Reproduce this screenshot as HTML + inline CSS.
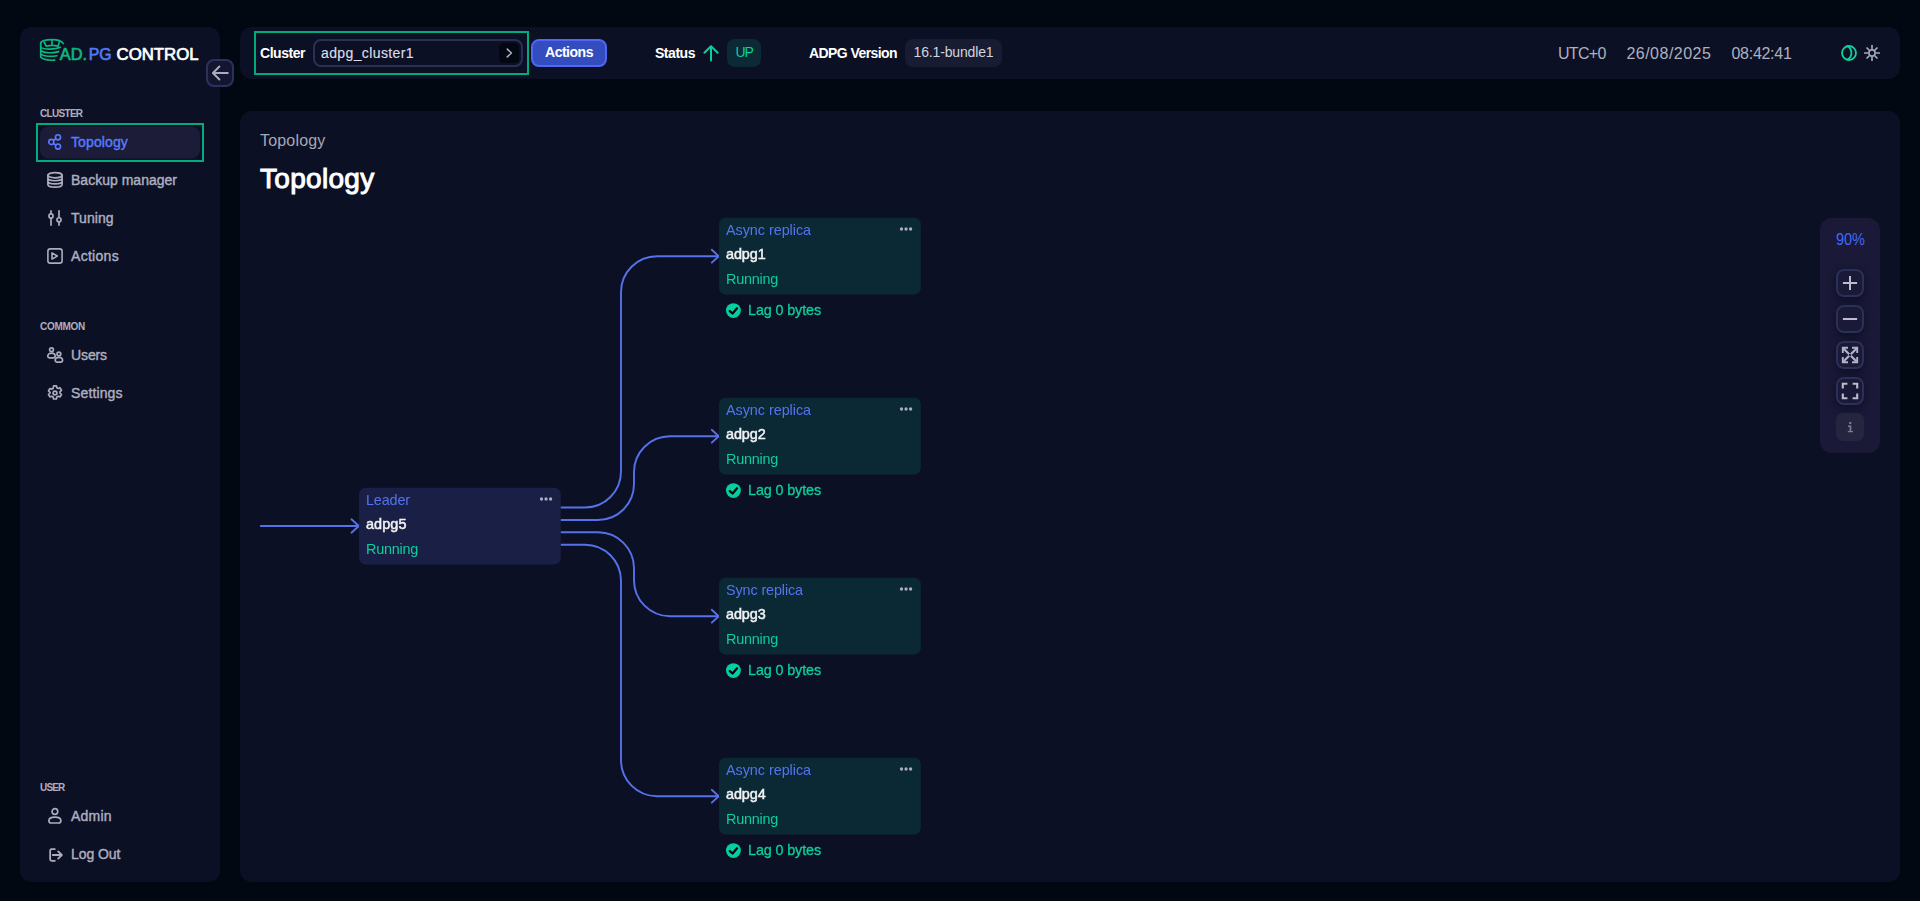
<!DOCTYPE html>
<html><head><meta charset="utf-8"><title>ADPG Control</title>
<style>
*{box-sizing:border-box;margin:0;padding:0}
html,body{width:1920px;height:901px;overflow:hidden;background:#020812;font-family:"Liberation Sans",sans-serif;}
.panel{position:absolute;background:#0c1024;border-radius:12px}
.t{position:absolute;white-space:nowrap;line-height:1}
.box{position:absolute}
.node{position:absolute;width:201.8px;height:76.6px;margin-top:-0.2px;border-radius:7px;background:#0b2935}
.zb{position:absolute;left:1836px;width:28px;height:28px;border-radius:8px;border:2px solid #2a3056;background:#1b1938;box-shadow:0 3px 8px rgba(8,8,26,.6)}
svg{position:absolute;overflow:visible}
</style></head><body>
<!-- panels -->
<div class="panel" style="left:20px;top:27px;width:200px;height:855px"></div>
<div class="panel" style="left:240px;top:27px;width:1660px;height:52px"></div>
<div class="panel" style="left:240px;top:111px;width:1660px;height:771px"></div>

<!-- collapse button -->
<div class="box" style="left:206px;top:59px;width:28px;height:28px;border-radius:8px;background:#141530;border:2px solid #2c325a"></div>
<svg style="left:206px;top:59px" width="28" height="28" viewBox="0 0 28 28" fill="none" stroke="#abadbf" stroke-width="1.9" stroke-linecap="round" stroke-linejoin="round"><path d="M21.800 14H7M13.400 7.500L6.900 14l6.500 6.500"/></svg>

<!-- logo -->
<svg id="logo" style="left:36px;top:30px" width="170" height="40" viewBox="0 0 170 40" fill="none">
 <g stroke="#0cb67e" stroke-width="1.65" stroke-linecap="round" stroke-linejoin="round" fill="none">
  <path d="M4.700 13.400C4.700 10.900 9.600 9.600 16 9.600C21.500 9.600 25.800 11 27.300 13.600"/>
  <path d="M10.300 16.250Q16 14.500 22 16.250M8 12L10.300 16.250M16 10.600V15.400M23.300 12.200L22 16.250"/>
  <path d="M4.700 13.400V27.100"/>
  <path d="M4.700 17.400C8 19.500 18 19.900 24.400 17.300"/>
  <path d="M4.700 20.700C8 23 17 23.500 22.600 21.600"/>
  <path d="M4.700 24.100C7.500 26.400 15 27 20.900 25.800"/>
  <path d="M4.700 27.100C6.500 29.600 12 30.500 18.700 30.100"/>
 </g>
 <g font-family="Liberation Sans, sans-serif" font-size="16.600" stroke-width="0.7" stroke-linejoin="round">
 <text x="23.800" y="29.600" fill="#0cb67e" stroke="#0cb67e" textLength="27.300" lengthAdjust="spacingAndGlyphs">AD.</text>
 <text x="52.800" y="29.600" fill="#5278f5" stroke="#5278f5" textLength="22.800" lengthAdjust="spacingAndGlyphs">PG</text>
 <text x="80.600" y="29.600" fill="#ffffff" stroke="#ffffff" textLength="82" lengthAdjust="spacingAndGlyphs">CONTROL</text>
 </g>
</svg>

<!-- nav active -->
<div class="box" style="left:36px;top:123px;width:168px;height:39px;border:2px solid #02aa7e"></div>
<svg style="left:0;top:0" width="240" height="200" viewBox="0 0 240 200"><rect x="40" y="126.600" width="160" height="31.900" rx="8.500" fill="#1c1b38"/></svg>

<!-- nav icons (16x16 at x=47) -->
<svg style="left:47px;top:134px" width="16" height="16" viewBox="0 0 16 16" fill="none" stroke="#587bff" stroke-width="1.6"><circle cx="4.300" cy="7.900" r="2.550"/><circle cx="11" cy="3.300" r="2.550"/><circle cx="11" cy="12.600" r="2.550"/><path d="M6.400 6.500L8.900 4.750M6.400 9.350L8.900 11.100"/></svg>
<svg style="left:47px;top:172px" width="16" height="16" viewBox="0 0 16 16" fill="none" stroke="#abadbd" stroke-width="1.7" stroke-linecap="round"><ellipse cx="8" cy="3.200" rx="7.100" ry="2.600"/><path d="M.9 3.200V12.400C.9 13.900 4 15.050 8 15.050S15.100 13.900 15.100 12.400V3.200M.9 6.100c0 1.500 3.100 2.650 7.100 2.650s7.100-1.150 7.100-2.650M.9 9.200c0 1.500 3.100 2.650 7.100 2.650s7.100-1.150 7.100-2.650"/></svg>
<svg style="left:47px;top:210px" width="16" height="16" viewBox="0 0 16 16" fill="none" stroke="#abadbd" stroke-width="1.7" stroke-linecap="butt"><path d="M4 .2v3.700M4 8.100V15.800M12 .2v7.500M12 11.900V15.800"/><circle cx="4" cy="6" r="2.050"/><circle cx="12" cy="9.800" r="2.050"/></svg>
<svg style="left:47px;top:248px" width="16" height="16" viewBox="0 0 16 16" fill="none" stroke="#abadbd" stroke-width="1.6" stroke-linejoin="round"><rect x=".9" y=".9" width="14.2" height="14.2" rx="2.4"/><path d="M5 4.900v6.200L10.300 8z"/></svg>
<svg style="left:47px;top:347px" width="16" height="16" viewBox="0 0 16 16" fill="none" stroke="#abadbd" stroke-width="1.7"><circle cx="4.5" cy="2.8" r="1.9"/><path d="M.8 9.2C.8 7.3 2.4 6.2 4.5 6.2s3.7 1.1 3.7 3c0 1.4-1 1.7-3.7 1.7S.8 10.6.8 9.2z"/><circle cx="11.9" cy="7" r="1.9"/><path d="M8.2 13.4c0-1.9 1.6-3 3.7-3s3.7 1.1 3.7 3c0 1.4-1 1.7-3.7 1.7s-3.7-.3-3.7-1.7z"/></svg>
<svg style="left:47px;top:385px" width="16" height="16" viewBox="0 0 16 16" fill="none" stroke="#abadbd" stroke-width="1.7" stroke-linejoin="round"><circle cx="8" cy="8" r="1.9"/><path d="M6.6.8h2.8l.5 2 1.2.7 2-.6 1.400 2.400-1.500 1.400v1.400l1.500 1.400-1.400 2.400-2-.6-1.200.7-.5 2H6.600l-.5-2-1.200-.7-2 .6-1.400-2.400 1.500-1.400V7.300L1.500 5.900l1.400-2.400 2 .6 1.200-.7z"/></svg>
<svg style="left:47px;top:808px" width="16" height="16" viewBox="0 0 16 16" fill="none" stroke="#abadbd" stroke-width="1.7" stroke-linejoin="round"><circle cx="7.900" cy="3.500" r="2.850"/><path d="M1.900 12.500C1.900 10.200 4.400 9.100 7.900 9.100S13.900 10.200 13.900 12.500C13.900 14.100 13 15 11.800 15H4C2.800 15 1.900 14.100 1.900 12.500z"/></svg>
<svg style="left:47px;top:846px" width="16" height="16" viewBox="0 0 16 16" fill="none" stroke="#abadbd" stroke-width="1.8" stroke-linecap="butt" stroke-linejoin="round"><path d="M8.500 3.100H4.700Q3.150 3.100 3.150 4.650V13.350Q3.150 14.900 4.700 14.900H8.500"/><path d="M5.800 9h8.400M11.200 5.400L14.800 9l-3.600 3.600" stroke-width="1.9" stroke-linecap="round"/></svg>

<!-- top bar -->
<div class="box" style="left:254px;top:31px;width:275px;height:44px;border:2px solid #02aa7e"></div>
<div class="box" style="left:313px;top:39px;width:210px;height:28px;border-radius:8px;border:2px solid #2b2f53;background:#0c1024"></div>
<div class="box" style="left:499px;top:43px;width:20px;height:20px;border-radius:5px;background:#030712"></div>
<svg style="left:499px;top:43px" width="20" height="20" viewBox="0 0 20 20" fill="none" stroke="#abadbd" stroke-width="1.6" stroke-linecap="round" stroke-linejoin="round"><path d="M8.300 6.100L12.400 10 8.300 13.900"/></svg>
<div class="box" style="left:531px;top:39px;width:76px;height:28px;border-radius:8px;border:2px solid #5066f4;background:#334dbe"></div>
<svg style="left:703px;top:45px" width="16" height="16" viewBox="0 0 16 16" fill="none" stroke="#0acf9c" stroke-width="2" stroke-linecap="round" stroke-linejoin="round"><path d="M8 15.400V1.200M1.400 7.800L8 1.100l6.600 6.700"/></svg>
<div class="box" style="left:727px;top:39px;width:34px;height:28px;border-radius:8px;background:#0b2a36"></div>
<div class="box" style="left:905px;top:39px;width:97px;height:28px;border-radius:8px;background:#181c33"></div>
<svg style="left:1840px;top:44px" width="18" height="18" viewBox="0 0 18 18" fill="none" stroke="#0fd29b" stroke-width="1.8" stroke-linecap="round"><circle cx="9" cy="9" r="7"/><path d="M7.400 2.300A7.600 7.600 0 0 1 7.400 15.700"/></svg>
<svg style="left:1863px;top:44px" width="18" height="18" viewBox="0 0 18 18" fill="none" stroke="#a3a5b6" stroke-width="1.7" stroke-linecap="butt"><circle cx="9" cy="9" r="3.100"/><path d="M9 1v4M9 13v4M1 9h4M13 9h4M3.500 3.500l2.700 2.700M11.800 11.800l2.700 2.700M3.500 14.500l2.700-2.700M11.800 6.200l2.700-2.700"/></svg>

<!-- edges -->
<svg style="left:0;top:0" width="1920" height="901" viewBox="0 0 1920 901" fill="none" stroke="#5572ea" stroke-width="1.9" stroke-linecap="round" stroke-linejoin="round">
 <path d="M260.800 526H358.500M351.500 519.300L358.800 526L351.500 532.700"/>
 <path d="M561 507.500H585A36 36 0 0 0 621 471.500V292.200A36 36 0 0 1 657 256.200H718.500"/>
 <path d="M561 544.700H585A36 36 0 0 1 621 580.700V760.200A36 36 0 0 0 657 796.200H718.500"/>
 <path d="M561 520H598A36 36 0 0 0 634 484V472.200A36 36 0 0 1 670 436.200H718.500"/>
 <path d="M561 532.300H598A36 36 0 0 1 634 568.300V580.200A36 36 0 0 0 670 616.200H718.500"/>
 <path d="M711.800 249.800L718.700 256.200L711.800 262.600M711.800 429.800L718.700 436.200L711.800 442.600M711.800 609.800L718.700 616.200L711.800 622.600M711.800 789.800L718.700 796.200L711.800 802.600"/>
</svg>

<!-- nodes -->
<svg style="left:0;top:0" width="1920" height="901" viewBox="0 0 1920 901">
 <rect x="359" y="487.800" width="201.800" height="76.600" rx="6.500" fill="#191f45"/>
 <rect x="719" y="217.800" width="201.800" height="76.600" rx="6.500" fill="#0b2935"/>
 <rect x="719" y="397.800" width="201.800" height="76.600" rx="6.500" fill="#0b2935"/>
 <rect x="719" y="577.800" width="201.800" height="76.600" rx="6.500" fill="#0b2935"/>
 <rect x="719" y="757.800" width="201.800" height="76.600" rx="6.500" fill="#0b2935"/>
</svg>
<svg style="left:0;top:0" width="1920" height="901" viewBox="0 0 1920 901">
 <defs>
  <g id="d3"><circle cx="0" cy="0" r="1.650"/><circle cx="4.550" cy="0" r="1.650"/><circle cx="9.100" cy="0" r="1.650"/></g>
  <g id="chk"><circle cx="0" cy="0" r="7.450" fill="#02d0a0"/><path d="M-3.600 .500L-.8 2.900 3.600-2.300" fill="none" stroke="#02040c" stroke-width="2.300" stroke-linecap="round" stroke-linejoin="round"/></g>
 </defs>
 <g fill="#abadbe">
  <use href="#d3" x="541.500" y="499"/>
  <use href="#d3" x="901.500" y="229"/><use href="#d3" x="901.500" y="409"/><use href="#d3" x="901.500" y="589"/><use href="#d3" x="901.500" y="769"/>
 </g>
 <use href="#chk" x="733.400" y="310.600"/><use href="#chk" x="733.400" y="490.600"/><use href="#chk" x="733.400" y="670.600"/><use href="#chk" x="733.400" y="850.600"/>
</svg>

<!-- zoom panel -->
<div class="box" style="left:1820px;top:218px;width:60px;height:235px;border-radius:12px;background:#1a1937"></div>
<div class="zb" style="top:269px"></div><div class="zb" style="top:305px"></div><div class="zb" style="top:341px"></div><div class="zb" style="top:377px"></div>
<div class="box" style="left:1836px;top:413px;width:28px;height:28px;border-radius:7px;background:#25253f"></div>
<svg style="left:1836px;top:269px" width="28" height="28" viewBox="0 0 28 28" fill="none" stroke="#bbbccd" stroke-width="2" stroke-linecap="butt"><path d="M14 6.900v14.200M6.900 14h14.200"/></svg>
<svg style="left:1836px;top:305px" width="28" height="28" viewBox="0 0 28 28" fill="none" stroke="#bbbccd" stroke-width="2"><path d="M6.900 14h14.200"/></svg>
<svg style="left:1836px;top:341px" width="28" height="28" viewBox="0 0 28 28" fill="none" stroke="#b0b2c5" stroke-width="1.9" stroke-linejoin="miter"><path d="M6.800 12V6.800H12M16 6.800h5.200V12M21.200 16v5.200H16M12 21.200H6.800V16"/><path d="M7.200 7.200l6 6M20.800 7.200l-6 6M20.800 20.800l-6-6M7.200 20.800l6-6" stroke-width="2.200"/></svg>
<svg style="left:1836px;top:377px" width="28" height="28" viewBox="0 0 28 28" fill="none" stroke="#bbbccd" stroke-width="2.100"><path d="M6.800 11.400V6.800h4.600M16.600 6.800h4.600v4.600M21.200 16.600v4.600h-4.600M11.400 21.200H6.800v-4.600"/></svg>
<svg style="left:1836px;top:413px" width="28" height="28" viewBox="0 0 28 28" fill="#7a7c90"><rect x="13.200" y="9" width="2.100" height="2.100"/><path d="M12 12.500h3.300v5.400h1.700v1.400h-5.200v-1.400h1.800v-4h-1.600z"/></svg>

<div class=t style="left:40px;top:108.53px;font-size:10px;font-weight:bold;color:#adafc0;letter-spacing:-0.691px;">CLUSTER</div>
<div class=t style="left:40px;top:321.94px;font-size:10px;font-weight:bold;color:#adafc0;letter-spacing:-0.279px;">COMMON</div>
<div class=t style="left:40px;top:782.83px;font-size:10px;font-weight:bold;color:#adafc0;letter-spacing:-0.824px;">USER</div>
<div class=t style="left:71px;top:135.15px;font-size:14px;font-weight:normal;color:#587bff;letter-spacing:0.119px;-webkit-text-stroke:0.4px #587bff;">Topology</div>
<div class=t style="left:71px;top:173.15px;font-size:14px;font-weight:normal;color:#adafc0;letter-spacing:0.011px;-webkit-text-stroke:0.4px #adafc0;">Backup manager</div>
<div class=t style="left:71px;top:211.15px;font-size:14px;font-weight:normal;color:#adafc0;letter-spacing:0.051px;-webkit-text-stroke:0.4px #adafc0;">Tuning</div>
<div class=t style="left:71px;top:249.15px;font-size:14px;font-weight:normal;color:#adafc0;letter-spacing:0.297px;-webkit-text-stroke:0.4px #adafc0;">Actions</div>
<div class=t style="left:71px;top:348.15px;font-size:14px;font-weight:normal;color:#adafc0;letter-spacing:-0.113px;-webkit-text-stroke:0.4px #adafc0;">Users</div>
<div class=t style="left:71px;top:386.15px;font-size:14px;font-weight:normal;color:#adafc0;letter-spacing:0.126px;-webkit-text-stroke:0.4px #adafc0;">Settings</div>
<div class=t style="left:71px;top:809.15px;font-size:14px;font-weight:normal;color:#adafc0;letter-spacing:0.203px;-webkit-text-stroke:0.4px #adafc0;">Admin</div>
<div class=t style="left:71px;top:847.15px;font-size:14px;font-weight:normal;color:#adafc0;letter-spacing:-0.090px;-webkit-text-stroke:0.4px #adafc0;">Log Out</div>
<div class=t style="left:260px;top:46.15px;font-size:14px;font-weight:bold;color:#fff;letter-spacing:-0.462px;">Cluster</div>
<div class=t style="left:321px;top:46.15px;font-size:14px;font-weight:normal;color:#dcdde7;letter-spacing:0.388px;-webkit-text-stroke:0.15px #dcdde7;">adpg_cluster1</div>
<div class=t style="left:545px;top:45.15px;font-size:14px;font-weight:bold;color:#fff;letter-spacing:-0.478px;">Actions</div>
<div class=t style="left:655px;top:46.15px;font-size:14px;font-weight:bold;color:#fff;letter-spacing:-0.466px;">Status</div>
<div class=t style="left:735.5px;top:45.15px;font-size:14px;font-weight:normal;color:#0acf9c;letter-spacing:-1.227px;">UP</div>
<div class=t style="left:809px;top:46.15px;font-size:14px;font-weight:bold;color:#fff;letter-spacing:-0.577px;">ADPG Version</div>
<div class=t style="left:913.5px;top:45.15px;font-size:14px;font-weight:normal;color:#d2d4de;letter-spacing:-0.146px;">16.1-bundle1</div>
<div class=t style="left:1558px;top:46.46px;font-size:16px;font-weight:normal;color:#adb0c0;letter-spacing:-0.705px;">UTC+0</div>
<div class=t style="left:1626.4px;top:46.46px;font-size:16px;font-weight:normal;color:#adb0c0;letter-spacing:0.492px;">26/08/2025</div>
<div class=t style="left:1731.5px;top:46.46px;font-size:16px;font-weight:normal;color:#adb0c0;letter-spacing:-0.285px;">08:42:41</div>
<div class=t style="left:260px;top:133.46px;font-size:16px;font-weight:normal;color:#a6a8b8;letter-spacing:0.182px;">Topology</div>
<div class=t style="left:260px;top:164.90px;font-size:28px;font-weight:normal;color:#fff;letter-spacing:0.301px;-webkit-text-stroke:1.0px #fff;">Topology</div>
<div class=t style="left:1835.6px;top:232.26px;font-size:16px;font-weight:normal;color:#4369f8;letter-spacing:0.000px;transform:scaleX(0.9054);transform-origin:0 50%;">90%</div>
<div class=t style="left:366px;top:492.81px;font-size:14.4px;font-weight:normal;color:#5573ee;letter-spacing:-0.135px;will-change:transform;">Leader</div>
<div class=t style="left:366px;top:517.31px;font-size:14.4px;font-weight:normal;color:#f2f2f5;letter-spacing:0.114px;will-change:transform;-webkit-text-stroke:0.5px #f2f2f5;">adpg5</div>
<div class=t style="left:366px;top:541.81px;font-size:14.4px;font-weight:normal;color:#0acf9c;letter-spacing:-0.230px;will-change:transform;">Running</div>
<div class=t style="left:726px;top:222.81px;font-size:14.4px;font-weight:normal;color:#5573ee;letter-spacing:-0.044px;will-change:transform;">Async replica</div>
<div class=t style="left:726px;top:247.31px;font-size:14.4px;font-weight:normal;color:#f2f2f5;letter-spacing:-0.086px;will-change:transform;-webkit-text-stroke:0.5px #f2f2f5;">adpg1</div>
<div class=t style="left:726px;top:271.81px;font-size:14.4px;font-weight:normal;color:#0acf9c;letter-spacing:-0.230px;will-change:transform;">Running</div>
<div class=t style="left:748px;top:303.11px;font-size:14.4px;font-weight:normal;color:#0acf9c;letter-spacing:-0.128px;will-change:transform;-webkit-text-stroke:0.3px #0acf9c;">Lag 0 bytes</div>
<div class=t style="left:726px;top:402.81px;font-size:14.4px;font-weight:normal;color:#5573ee;letter-spacing:-0.044px;will-change:transform;">Async replica</div>
<div class=t style="left:726px;top:427.31px;font-size:14.4px;font-weight:normal;color:#f2f2f5;letter-spacing:-0.086px;will-change:transform;-webkit-text-stroke:0.5px #f2f2f5;">adpg2</div>
<div class=t style="left:726px;top:451.81px;font-size:14.4px;font-weight:normal;color:#0acf9c;letter-spacing:-0.230px;will-change:transform;">Running</div>
<div class=t style="left:748px;top:483.11px;font-size:14.4px;font-weight:normal;color:#0acf9c;letter-spacing:-0.128px;will-change:transform;-webkit-text-stroke:0.3px #0acf9c;">Lag 0 bytes</div>
<div class=t style="left:726px;top:582.81px;font-size:14.4px;font-weight:normal;color:#5573ee;letter-spacing:-0.116px;will-change:transform;">Sync replica</div>
<div class=t style="left:726px;top:607.31px;font-size:14.4px;font-weight:normal;color:#f2f2f5;letter-spacing:-0.086px;will-change:transform;-webkit-text-stroke:0.5px #f2f2f5;">adpg3</div>
<div class=t style="left:726px;top:631.81px;font-size:14.4px;font-weight:normal;color:#0acf9c;letter-spacing:-0.230px;will-change:transform;">Running</div>
<div class=t style="left:748px;top:663.11px;font-size:14.4px;font-weight:normal;color:#0acf9c;letter-spacing:-0.128px;will-change:transform;-webkit-text-stroke:0.3px #0acf9c;">Lag 0 bytes</div>
<div class=t style="left:726px;top:762.81px;font-size:14.4px;font-weight:normal;color:#5573ee;letter-spacing:-0.044px;will-change:transform;">Async replica</div>
<div class=t style="left:726px;top:787.31px;font-size:14.4px;font-weight:normal;color:#f2f2f5;letter-spacing:-0.086px;will-change:transform;-webkit-text-stroke:0.5px #f2f2f5;">adpg4</div>
<div class=t style="left:726px;top:811.81px;font-size:14.4px;font-weight:normal;color:#0acf9c;letter-spacing:-0.230px;will-change:transform;">Running</div>
<div class=t style="left:748px;top:843.11px;font-size:14.4px;font-weight:normal;color:#0acf9c;letter-spacing:-0.128px;will-change:transform;-webkit-text-stroke:0.3px #0acf9c;">Lag 0 bytes</div>
</body></html>
